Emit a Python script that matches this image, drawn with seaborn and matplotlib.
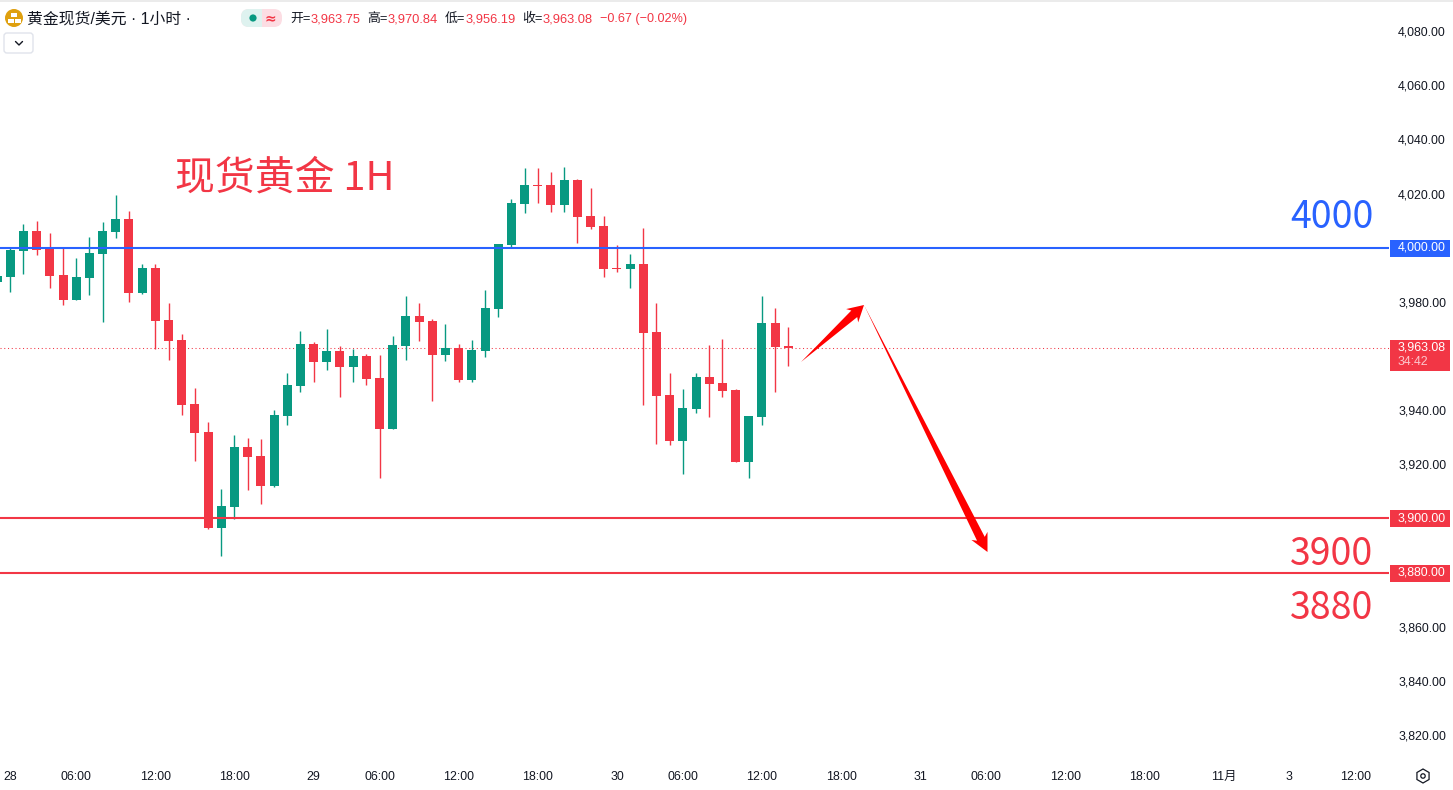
import matplotlib
matplotlib.use('Agg')
import matplotlib.pyplot as plt
from matplotlib.patches import Circle, Polygon, Rectangle, RegularPolygon, FancyBboxPatch
from matplotlib.transforms import Affine2D
import seaborn as sns
import pandas as pd
import numpy as np

# Candles, oldest first. First one is cut off by the left edge
open_prices = [
    3987.4, 3989.2, 3998.8, 4006.2, 3999.5, 3989.9, 3980.7, 3988.8, 3997.7, 4005.8,
    4010.6, 3983.3, 3992.5, 3973.3, 3965.9, 3942.3, 3931.9, 3896.5, 3904.2, 3926.4,
    3923.1, 3912.0, 3937.9, 3948.9, 3964.4, 3957.8, 3961.9, 3955.9, 3960.0, 3951.9,
    3933.0, 3963.7, 3974.8, 3972.9, 3960.4, 3963.0, 3951.1, 3961.9, 3977.4, 4001.0,
    4016.1, 4023.2, 4023.2, 4015.8, 4025.0, 4011.7, 4008.0, 3992.5, 3992.1, 3994.0,
    3968.9, 3945.6, 3928.6, 3940.4, 3952.3, 3950.0, 3947.5, 3920.9, 3937.5, 3972.2,
    3963.75]
close_prices = [
    3989.5, 3999.2, 4006.2, 3999.2, 3989.5, 3980.7, 3989.2, 3998.0, 4006.2, 4010.6,
    3983.3, 3992.5, 3972.9, 3965.5, 3941.9, 3931.6, 3896.5, 3904.6, 3926.4, 3922.7,
    3912.0, 3938.2, 3949.3, 3964.4, 3957.8, 3961.9, 3955.9, 3960.0, 3951.5, 3933.0,
    3964.1, 3974.8, 3972.6, 3960.4, 3963.0, 3951.1, 3962.2, 3977.7, 4001.4, 4016.5,
    4023.2, 4022.8, 4015.8, 4025.0, 4011.3, 4007.6, 3992.1, 3992.1, 3994.0, 3968.5,
    3945.2, 3928.6, 3940.8, 3952.3, 3949.7, 3947.1, 3920.9, 3937.9, 3972.2, 3963.3,
    3963.08]
high_prices = [
    3991.4, 3999.8, 4008.8, 4009.9, 4005.4, 3999.9, 3996.2, 4004.0, 4009.5, 4019.5,
    4013.6, 3994.0, 3994.0, 3979.6, 3968.1, 3948.2, 3935.6, 3910.9, 3930.8, 3929.7,
    3929.4, 3940.1, 3953.7, 3969.2, 3965.2, 3970.0, 3963.7, 3962.6, 3960.7, 3960.4,
    3967.4, 3982.2, 3979.6, 3973.7, 3971.8, 3964.4, 3965.9, 3984.4, 4001.4, 4018.0,
    4029.4, 4029.4, 4028.0, 4029.8, 4025.4, 4022.0, 4011.7, 4001.0, 3997.7, 4007.3,
    3979.6, 3953.7, 3947.8, 3953.7, 3964.1, 3966.3, 3947.8, 3937.9, 3982.2, 3977.7,
    3970.84]
low_prices = [
    3984.0, 3983.8, 3990.3, 3997.3, 3985.1, 3978.8, 3980.7, 3982.5, 3972.6, 4003.6,
    3980.0, 3982.9, 3962.6, 3958.5, 3938.2, 3921.2, 3896.1, 3886.2, 3899.8, 3910.5,
    3905.4, 3911.6, 3934.5, 3946.7, 3950.4, 3954.8, 3944.9, 3950.4, 3949.3, 3915.0,
    3933.0, 3958.5, 3965.5, 3943.4, 3958.2, 3950.4, 3950.4, 3959.6, 3974.4, 4000.3,
    4012.8, 4016.5, 4013.2, 4013.2, 4001.7, 4006.9, 3989.2, 3991.0, 3985.1, 3941.9,
    3927.5, 3927.1, 3916.4, 3939.0, 3937.5, 3944.9, 3920.9, 3915.0, 3934.5, 3946.7,
    3956.19]

# x axis labels and the candle slot they sit on
time_ticks = [0, 5, 11, 17, 23, 28, 34, 40, 46, 51, 57, 63, 69, 74, 80, 86, 92, 97, 102]
time_labels = ['28', '06:00', '12:00', '18:00', '29', '06:00', '12:00', '18:00', '30', '06:00',
               '12:00', '18:00', '31', '06:00', '12:00', '18:00', '11月', '3', '12:00']

# prices on the right scale (the others are covered by the tags)
price_ticks = [3820, 3840, 3860, 3920, 3940, 3980, 4020, 4040, 4060, 4080]
level_blue = 4000
levels_red = [3900, 3880]
last_price = 3963.08

GREEN = '#089981'
RED = '#f23645'
BLUE = '#2962ff'
ARROW = '#ff0000'
INK = '#131722'

WIDTH, HEIGHT = 1453, 790
PANE_W, PANE_H = 1389, 762
PX = 0.36928  # price per pixel

sns.set_theme(style='white')
plt.rcParams['font.family'] = ['Liberation Sans', 'Noto Sans CJK SC']

df = pd.DataFrame({'open': open_prices, 'close': close_prices,
                   'high': high_prices, 'low': low_prices})
df['slot'] = np.arange(len(df)) - 1
df['top'] = df[['open', 'close']].max(axis=1)
df['bottom'] = df[['open', 'close']].min(axis=1)
df['body'] = df['top'] - df['bottom']
df['up'] = df['close'] > df['open']

fig = plt.figure(figsize=(WIDTH / 100, HEIGHT / 100), dpi=100, facecolor='white')
ax = fig.add_axes([0, 1 - PANE_H / HEIGHT, PANE_W / WIDTH, PANE_H / HEIGHT])

# pixel coordinates, origin top left, for the overlay stuff
pix = Affine2D().scale(1, -1).translate(0, HEIGHT)

ax.axhline(last_price, color=RED, lw=0.75, ls=(0, (1, 2.6)), zorder=1)

for is_up, color in [(True, GREEN), (False, RED)]:
    part = df[df['up'] == is_up]
    ax.vlines(part['slot'], part['low'], part['high'], color=color, lw=1.0, zorder=2)
    sns.barplot(x=part['slot'].values, y=part['body'].values, bottom=part['bottom'].values,
                native_scale=True, width=0.68, color=color, saturation=1, errorbar=None,
                linewidth=0, zorder=3, ax=ax)

ax.axhline(level_blue, color=BLUE, lw=1.5, zorder=4)
for level in levels_red:
    ax.axhline(level, color=RED, lw=1.5, zorder=4)

ax.set_xlim(-0.78, 104.55)
ax.set_ylim(4091.47 - PANE_H * PX, 4091.47)
ax.set_xlabel('')
ax.set_ylabel('')
ax.set_xticks(time_ticks)
ax.set_xticklabels(time_labels)
ax.yaxis.tick_right()
ax.set_yticks(price_ticks)
ax.set_yticklabels([f'{p:,.2f}' for p in price_ticks])
ax.tick_params(axis='x', length=0, pad=6.3, labelsize=8.9, labelcolor=INK)
ax.tick_params(axis='y', length=0, pad=6.5, labelsize=8.9, labelcolor=INK)
ax.grid(False)
sns.despine(ax=ax, left=True, right=True, top=True, bottom=True)

# tags on the price scale
ytrans = ax.get_yaxis_transform()


def price_tag(price, color, label, up=8, down=9, sub=None):
    ax.add_patch(Rectangle((1390 / PANE_W, price - down * PX), 60 / PANE_W, (up + down) * PX,
                           transform=ytrans, color=color, lw=0, clip_on=False, zorder=6))
    ax.text(1398 / PANE_W, price, label, transform=ytrans, color='white', fontsize=8.9,
            va='center', ha='left', clip_on=False, zorder=7)
    if sub:
        ax.text(1398 / PANE_W, price - 14 * PX, sub, transform=ytrans, color='#fcc6cc', fontsize=8.9,
                va='center', ha='left', clip_on=False, zorder=7)


price_tag(level_blue, BLUE, '4,000.00')
price_tag(levels_red[0], RED, '3,900.00')
price_tag(levels_red[1], RED, '3,880.00')
price_tag(last_price, RED, '3,963.08', up=8, down=23, sub='34:42')


def arrow(x0, y0, x1, y1, head_len, head_half, neck_half):
    # tapered hand drawn style arrow, thin at the tail
    p0, p1 = np.array([x0, y0], float), np.array([x1, y1], float)
    d = (p1 - p0) / np.hypot(*(p1 - p0))
    n = np.array([-d[1], d[0]])
    base = p1 - d * head_len
    neck = p1 - d * head_len * 0.82
    pts = [p0, neck + n * neck_half, base + n * head_half, p1, base - n * head_half, neck - n * neck_half]
    fig.add_artist(Polygon(pts, closed=True, transform=pix, color=ARROW, lw=0, zorder=8))


arrow(801, 362, 864, 305, 16, 9, 4.4)
arrow(864, 305, 987.5, 552, 18, 9, 4.3)

# big annotations on the chart
cjk = ['Noto Sans CJK SC', 'DejaVu Sans']
fig.text(175, 179, '现货黄金 1H', transform=pix, color=RED, fontsize=28.7, family=cjk, va='center', ha='left')
fig.text(1332, 218, '4000', transform=pix, color=BLUE, fontsize=27, family=cjk, va='center', ha='center')
fig.text(1332, 554.5, '3900', transform=pix, color=RED, fontsize=27, family=cjk, va='center', ha='center')
fig.text(1332, 608.5, '3880', transform=pix, color=RED, fontsize=27, family=cjk, va='center', ha='center')

# top strip of the screenshot
fig.add_artist(Rectangle((0, 0), WIDTH, 2, transform=pix, color='#ebebeb', lw=0))

# gold icon
fig.add_artist(Circle((14, 18), 9, transform=pix, color='#dfa00f', lw=0))
for bx, by in [(11, 12.5), (7.5, 19), (14.5, 19)]:
    fig.add_artist(Rectangle((bx, by), 6, 4, transform=pix, color='white', lw=0))

fig.text(27, 19, '黄金现货/美元 · 1小时 ·', transform=pix, color=INK, fontsize=11.4, va='center', ha='left')

# status pill
fig.add_artist(FancyBboxPatch((241, 9), 41, 18, boxstyle='round,pad=0,rounding_size=8', transform=pix,
                              facecolor='#fcdde3', lw=0))
fig.add_artist(FancyBboxPatch((241, 9), 20, 18, boxstyle='round,pad=0,rounding_size=8', transform=pix,
                              facecolor='#def2ef', lw=0))
fig.add_artist(Rectangle((253, 9), 9, 18, transform=pix, color='#def2ef', lw=0))
fig.add_artist(Circle((253, 18), 3.6, transform=pix, color=GREEN, lw=0))
fig.text(270.5, 18, '≈', transform=pix, color=RED, fontsize=10, family=['DejaVu Sans'], weight='bold',
         va='center', ha='center')

# OHLC readout
for name, value, nx, vx in [('开=', '3,963.75', 290, 311), ('高=', '3,970.84', 367, 388),
                            ('低=', '3,956.19', 445, 466), ('收=', '3,963.08', 522, 543)]:
    fig.text(nx, 19, name, transform=pix, color=INK, fontsize=9.3, va='center', ha='left')
    fig.text(vx, 19, value, transform=pix, color=RED, fontsize=9.3, va='center', ha='left')
fig.text(600, 19, '−0.67 (−0.02%)', transform=pix, color=RED, fontsize=9.1, va='center', ha='left')

# dropdown button
fig.add_artist(FancyBboxPatch((4, 33), 29, 20, boxstyle='round,pad=0,rounding_size=3', transform=pix,
                              facecolor='white', edgecolor='#e0e3eb', lw=1))
fig.add_artist(plt.Line2D([15.5, 19, 22.5], [41.5, 45, 41.5], transform=pix, color=INK, lw=1))

# settings icon bottom right
fig.add_artist(RegularPolygon((1423, 776), 6, radius=7, transform=pix, facecolor='none', edgecolor=INK, lw=0.9))
fig.add_artist(Circle((1423, 776), 2.2, transform=pix, facecolor='none', edgecolor=INK, lw=0.9))

fig.savefig('out.png', dpi=100)
plt.close(fig)
